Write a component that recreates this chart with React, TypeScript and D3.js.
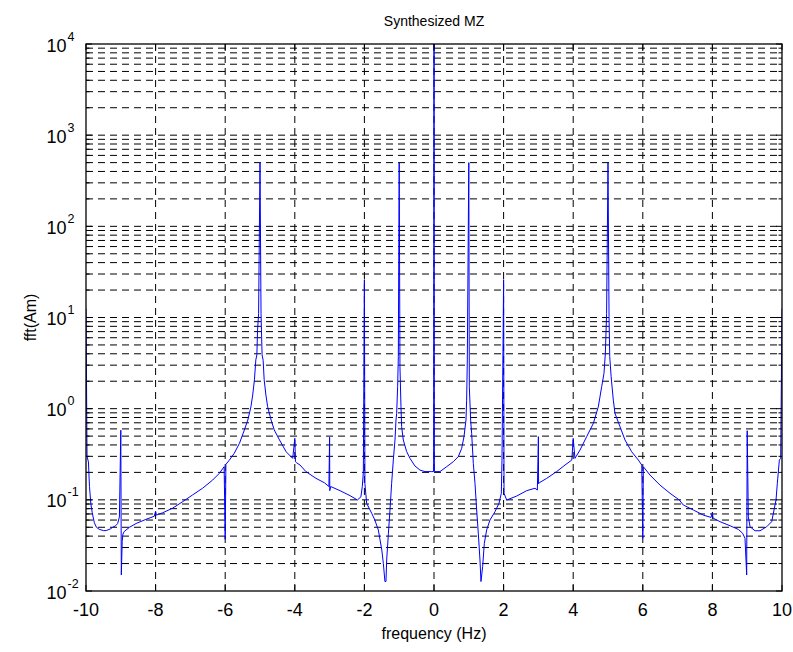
import React from 'react';
import * as d3 from 'd3';

// frequency (Hz) and |fft(Am)|
const freq = [
  -10.0, -9.97, -9.93, -9.9, -9.86, -9.82, -9.76, -9.7, -9.62, -9.5, -9.42, -9.3, -9.23, -9.15, -9.09, -9.04,
  -9.0, -8.985, -8.96, -8.94, -8.9, -8.75, -8.56, -8.28, -8.04, -8.0, -7.98, -7.8, -7.51, -7.22, -6.94, -6.65,
  -6.36, -6.17, -6.03, -6.0, -5.98, -5.88, -5.74, -5.59, -5.45, -5.35, -5.26, -5.21, -5.16, -5.12, -5.09, -5.07,
  -5.04, -5.0, -4.97, -4.94, -4.91, -4.88, -4.83, -4.78, -4.68, -4.59, -4.44, -4.25, -4.06, -4.0, -3.98, -3.95,
  -3.85, -3.68, -3.39, -3.15, -3.02, -3.0, -2.995, -2.97, -2.7, -2.41, -2.2, -2.1, -2.06, -2.03, -2.0, -1.985,
  -1.935, -1.79, -1.7, -1.6, -1.55, -1.5, -1.456, -1.41, -1.38, -1.36, -1.31, -1.265, -1.217, -1.169, -1.121, -1.092,
  -1.073, -1.045, -1.025, -1.0, -0.978, -0.949, -0.93, -0.882, -0.786, -0.69, -0.547, -0.403, -0.259, -0.068, -0.01, 0.0,
  0.01, 0.172, 0.364, 0.555, 0.699, 0.795, 0.862, 0.919, 0.938, 0.957, 1.0, 1.015, 1.053, 1.082, 1.13, 1.178,
  1.226, 1.273, 1.321, 1.35, 1.398, 1.446, 1.513, 1.609, 1.753, 1.867, 1.935, 1.954, 2.0, 2.012, 2.088, 2.376,
  2.663, 2.902, 2.97, 3.0, 3.005, 3.027, 3.238, 3.525, 3.765, 3.96, 4.0, 4.05, 4.196, 4.387, 4.579, 4.722,
  4.818, 4.885, 4.924, 4.96, 5.0, 5.03, 5.05, 5.09, 5.153, 5.201, 5.345, 5.489, 5.68, 5.872, 5.97, 6.0,
  6.015, 6.207, 6.494, 6.782, 7.05, 7.165, 7.453, 7.74, 7.96, 8.0, 8.02, 8.219, 8.506, 8.746, 8.87, 8.937,
  8.985, 9.0, 9.033, 9.081, 9.225, 9.368, 9.56, 9.704, 9.771, 9.828, 9.866, 9.924, 9.962, 10.0,
];
const amp = [
  12.5, 0.3, 0.26, 0.14, 0.09, 0.072, 0.056, 0.05, 0.0475, 0.046, 0.046, 0.048, 0.05, 0.052, 0.055, 0.065,
  0.58, 0.015, 0.035, 0.042, 0.045, 0.05, 0.055, 0.061, 0.066, 0.075, 0.068, 0.072, 0.081, 0.0955, 0.113, 0.134,
  0.165, 0.195, 0.231, 0.037, 0.245, 0.273, 0.324, 0.417, 0.583, 0.75, 1.05, 1.41, 2.07, 3.42, 3.9, 7.3,
  11, 500, 11, 3.9, 3.4, 2.07, 1.41, 1.05, 0.75, 0.583, 0.454, 0.337, 0.285, 0.473, 0.262, 0.255,
  0.241, 0.204, 0.172, 0.154, 0.14, 0.485, 0.126, 0.14, 0.126, 0.111, 0.0996, 0.108, 0.14, 0.2, 26, 0.15,
  0.0916, 0.0711, 0.0601, 0.0467, 0.0363, 0.0282, 0.0201, 0.0127, 0.0127, 0.0219, 0.043, 0.0774, 0.152, 0.274, 0.453, 0.75,
  0.889, 1.74, 3.71, 500, 2.89, 1.05, 0.635, 0.453, 0.338, 0.285, 0.235, 0.212, 0.204, 0.204, 0.204, 10000,
  0.204, 0.204, 0.231, 0.262, 0.298, 0.367, 0.493, 0.75, 1.24, 3.42, 500, 1.74, 0.75, 0.537, 0.251, 0.152,
  0.0774, 0.043, 0.0219, 0.0127, 0.0185, 0.0333, 0.0467, 0.0601, 0.0742, 0.0916, 0.118, 0.273, 26, 0.118, 0.0995, 0.11,
  0.126, 0.134, 0.128, 0.493, 0.15, 0.154, 0.172, 0.204, 0.241, 0.273, 0.472, 0.285, 0.352, 0.493, 0.69, 1.05,
  1.74, 2.44, 4.05, 11.1, 500, 10.2, 3.72, 2.24, 1.24, 0.888, 0.634, 0.453, 0.337, 0.273, 0.241, 0.0378,
  0.231, 0.187, 0.145, 0.118, 0.0995, 0.0877, 0.0773, 0.068, 0.0642, 0.072, 0.063, 0.0576, 0.052, 0.0474, 0.0429, 0.0378,
  0.015, 0.573, 0.0653, 0.0507, 0.0458, 0.0458, 0.0507, 0.0576, 0.0773, 0.0995, 0.152, 0.273, 0.285, 12.5,
];

const xTicks = [-10, -8, -6, -4, -2, 0, 2, 4, 6, 8, 10];
const yExponents = [-2, -1, 0, 1, 2, 3, 4];
const minorMultipliers = [2, 3, 4, 5, 6, 7, 8, 9];

const titleText = 'Synthesized MZ';
const xLabelText = 'frequency (Hz)';
const yLabelText = 'fft(Am)';

const FONT = '"Liberation Sans", Arial, Helvetica, sans-serif';

export default function App() {
  const W = 793;
  const H = 652;
  const L = 86, R = 782, T = 44, B = 591;
  const x = d3.scaleLinear().domain([-10, 10]).range([L, R]);
  const y = d3.scaleLog().domain([0.01, 10000]).range([B, T]);

  const pts = freq.map((f, i) => [f, amp[i]] as [number, number]);
  const line = d3.line<[number, number]>().x(d => x(d[0])).y(d => y(d[1]));

  const majorVals = yExponents.map(e => Math.pow(10, e));
  const minorVals: number[] = [];
  yExponents.slice(0, -1).forEach(e => minorMultipliers.forEach(m => minorVals.push(m * Math.pow(10, e))));

  const dash = '7,5';

  return (
    <svg width={W} height={H} style={{ position: 'absolute', left: 0, top: 0, background: '#fff' }} fontFamily={FONT}>
      <rect x={0} y={0} width={W} height={H} fill="#fff" />
      <defs>
        <clipPath id="plotclip">
          <rect x={L} y={T} width={R - L} height={B - T} />
        </clipPath>
      </defs>
      {/* horizontal grid */}
      {[...minorVals, ...majorVals].filter(v => v > 0.01 && v < 10000).map((v, i) => (
        <line key={'hg' + i} x1={L} x2={R} y1={y(v)} y2={y(v)} stroke="#000" strokeWidth={1} strokeDasharray={dash} />
      ))}
      {/* vertical grid */}
      {xTicks.filter(t => t > -10 && t < 10).map(t => (
        <line key={'vg' + t} x1={x(t)} x2={x(t)} y1={T} y2={B} stroke="#000" strokeWidth={1} strokeDasharray={dash} />
      ))}
      {/* data line */}
      <path d={line(pts) || ''} fill="none" stroke="#0000ff" strokeWidth={1} clipPath="url(#plotclip)" />
      {/* ticks */}
      {majorVals.map((v, i) => (
        <g key={'yt' + i}>
          <line x1={L} x2={L + 6} y1={y(v)} y2={y(v)} stroke="#000" />
          <line x1={R} x2={R - 6} y1={y(v)} y2={y(v)} stroke="#000" />
        </g>
      ))}
      {minorVals.map((v, i) => (
        <g key={'ymt' + i}>
          <line x1={L} x2={L + 3.5} y1={y(v)} y2={y(v)} stroke="#000" />
          <line x1={R} x2={R - 3.5} y1={y(v)} y2={y(v)} stroke="#000" />
        </g>
      ))}
      {xTicks.map(t => (
        <g key={'xt' + t}>
          <line x1={x(t)} x2={x(t)} y1={B} y2={B - 6} stroke="#000" />
          <line x1={x(t)} x2={x(t)} y1={T} y2={T + 6} stroke="#000" />
        </g>
      ))}
      {/* frame */}
      <rect x={L} y={T} width={R - L} height={B - T} fill="none" stroke="#000" strokeWidth={1.3} />
      {/* x tick labels */}
      {xTicks.map(t => (
        <text key={'xl' + t} x={x(t)} y={B + 25} textAnchor="middle" fontSize={18} fill="#000">{String(t)}</text>
      ))}
      {/* y tick labels */}
      {yExponents.map(e => (
        <g key={'yl' + e}>
          <text x={66.5} y={y(Math.pow(10, e)) + 7.5} textAnchor="end" fontSize={18} fill="#000">10</text>
          <text x={67.5} y={y(Math.pow(10, e)) - 3.5} textAnchor="start" fontSize={12.5} fill="#000">{String(e)}</text>
        </g>
      ))}
      {/* labels */}
      <text x={(L + R) / 2} y={26} textAnchor="middle" fontSize={14} fill="#000">{titleText}</text>
      <text x={(L + R) / 2} y={639} textAnchor="middle" fontSize={16} fill="#000">{xLabelText}</text>
      <text transform={`translate(36,${(T + B) / 2}) rotate(-90)`} textAnchor="middle" fontSize={16} fill="#000">{yLabelText}</text>
    </svg>
  );
}
